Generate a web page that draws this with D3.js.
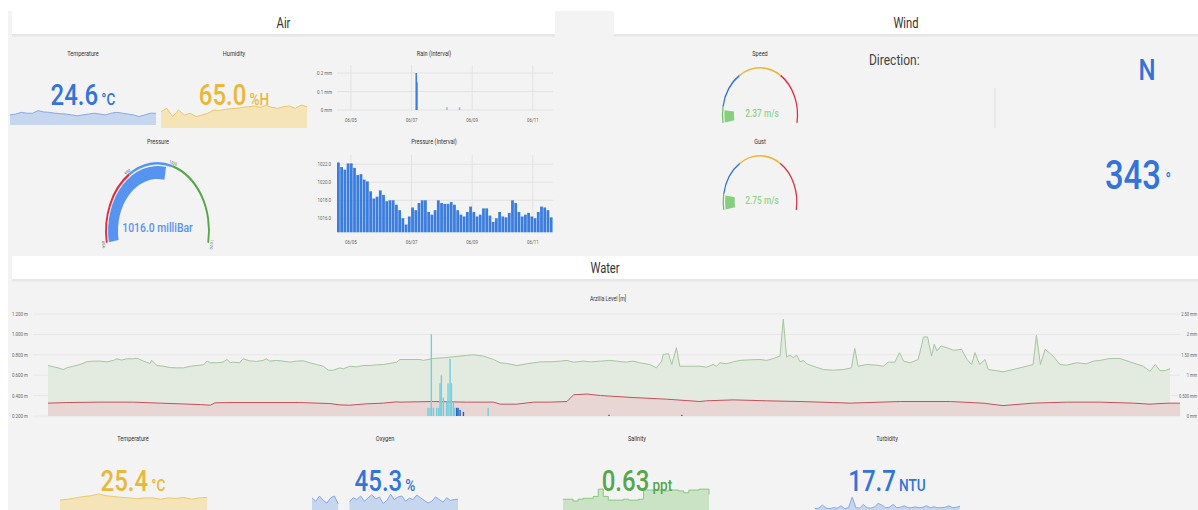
<!DOCTYPE html>
<html><head><meta charset="utf-8">
<script src="https://cdn.jsdelivr.net/npm/d3@7/dist/d3.min.js"></script>
<style>
html,body{margin:0;padding:0;background:#fff;overflow:hidden}
svg{display:block;font-family:Roboto,"Liberation Sans",sans-serif}
</style></head><body>
<svg id="chart" width="1198" height="510"></svg>
<script>
// ---------------- DATA ----------------
const airTempValue = 24.6;
const airTempSeries = [24.2,24.4,24.8,24.6,24.6,25.2,24.9,24.8,24.6,24.5,24.4,24.2,24.0,24.2,24.4,24.6,24.4,24.2,24.6,24.8,24.6,24.4,24.2,23.8,24.2,24.6,24.6];
const humidityValue = 65.0;
const humiditySeries = [60.5,63.5,56.0,62.0,57.5,59.0,56.0,57.5,59.0,62.0,61.4,62.6,63.2,63.5,64.4,65.0,65.6,64.4,66.2,64.4,63.5,65.0,65.6,63.5,66.5,65.0];

const chartTimeDomain = ["2019-06-04 13:00", "2019-06-11 16:00"];
const dayTicks = ["2019-06-05 00:00", "2019-06-07 00:00", "2019-06-09 00:00", "2019-06-11 00:00"];
const rainTimes = ["2019-06-07 03:45", "2019-06-07 04:15", "2019-06-08 04:00", "2019-06-08 14:00"];
const rainValues = [0.2, 0.15, 0.015, 0.015];
const rainTicks = [0, 0.1, 0.2];

const pressureSeries = [1022.2,1021.7,1021.4,1022.1,1022.1,1021.6,1020.8,1020.9,1020.3,1020.1,1019.0,1018.2,1018.4,1019.1,1018.6,1017.9,1018.0,1018.0,1017.5,1016.9,1016.0,1015.3,1016.2,1017.2,1016.9,1017.7,1018.0,1018.0,1016.7,1016.4,1016.9,1018.0,1017.7,1017.6,1017.6,1017.8,1017.5,1016.9,1016.4,1016.2,1016.7,1017.3,1016.7,1016.2,1016.4,1017.1,1017.1,1016.3,1015.6,1016.0,1016.7,1016.2,1016.1,1016.6,1018.0,1017.7,1016.7,1016.2,1016.4,1016.6,1016.2,1016.0,1016.7,1017.3,1017.2,1016.9,1016.1];
const pressureTicks = [1016, 1018, 1020, 1022];

const pressureValue = 1016.0;
const pressureStops = [950, 990, 1020, 1070];
const pressureColors = ["#e02f44", "#5794f2", "#56a64b"];

const windStops = [0, 3, 10, 20, 30];
const windColors = ["#73bf69", "#3274d9", "#eab839", "#e02f44"];
const speedValue = 2.37;
const gustValue = 2.75;
const directionLabel = "N";
const directionDegrees = 343;

const levelHours = [0,0.8,1.5,2.3,2.8,3.8,4.8,5.8,6.8,7.8,8.8,9.8,10.3,11.0,11.8,12.8,13.3,14.3,15.3,15.5,16.3,17.3,18.3,19.3,20.3,21.3,22.3,23.3,23.8,24.3,25.3,26.2,26.8,27.3,27.7,28.7,29.2,30.2,31.2,32.2,32.7,33.2,34.2,35.2,36.2,37.2,38.2,39.2,40.2,41.2,42.0,42.7,43.7,44.2,45.2,46.2,47.2,48.2,49.2,50.2,51.2,52.2,
52.7,54.2,55.7,56.2,57.7,59.2,60.7,62.7,63.7,65.2,66.7,67.7,68.7,70.2,71.7,72.7,73.7,75.2,76.7,77.7,78.7,80.2,81.2,82.7,84.1,85.1,86.6,87.6,88.6,90.1,91.1,91.9,92.1,92.9,93.4,94.1,94.6,96.1,97.6,98.6,99.6,100.1,100.6,101.6,102.6,103.6,105.1,106.6,107.6,108.6,109.6,110.1,110.6,111.1,111.6,112.1,
112.6,113.1,113.6,114.6,116.1,117.6,119.1,120.3,120.8,121.3,122.6,124.1,125.1,125.8,126.8,127.5,128.1,129.1,130.3,131.1,131.7,132.3,132.7,133.1,133.7,134.6,135.6,136.8,137.6,138.3,138.8,139.5,140.3,140.8,142.0,143.0,144.5,146.5,147.5,148.0,148.6,149.3,150.5,151.5,152.5,154.0,155.5,156.5,157.5,159.0,160.5,162.0,164.0,165.0,165.8,166.5,167.3,168.0];
const levelValues = [0.695,0.682,0.672,0.655,0.672,0.688,0.705,0.732,0.738,0.738,0.731,0.745,0.761,0.748,0.761,0.761,0.767,0.738,0.715,0.748,0.695,0.688,0.675,0.672,0.672,0.688,0.695,0.702,0.738,0.722,0.722,0.728,0.754,0.722,0.728,0.722,0.761,0.741,0.735,0.745,0.761,0.738,0.745,0.738,0.728,0.738,0.741,0.722,0.705,0.688,0.649,0.649,0.672,0.662,0.688,0.682,0.695,0.695,0.702,0.705,0.715,0.728,
0.754,0.754,0.754,0.745,0.764,0.771,0.781,0.794,0.801,0.787,0.754,0.722,0.715,0.695,0.712,0.722,0.731,0.731,0.738,0.745,0.728,0.738,0.731,0.738,0.745,0.738,0.728,0.738,0.722,0.705,0.672,0.738,0.804,0.811,0.705,0.870,0.688,0.688,0.688,0.678,0.705,0.688,0.722,0.712,0.731,0.745,0.751,0.754,0.745,0.764,0.787,1.150,0.777,0.797,0.771,0.797,
0.731,0.745,0.712,0.688,0.655,0.649,0.655,0.672,0.863,0.688,0.705,0.698,0.688,0.728,0.728,0.821,0.738,0.722,0.754,0.975,0.975,0.787,0.903,0.837,0.886,0.870,0.844,0.853,0.754,0.705,0.821,0.705,0.754,0.655,0.645,0.633,0.655,0.688,0.705,0.992,0.705,0.853,0.787,0.705,0.698,0.722,0.712,0.738,0.745,0.764,0.764,0.731,0.688,0.639,0.705,0.645,0.645,0.665];

const baseHours = [0,2.8,7.8,12.8,16.8,22.8,24.3,25.0,27.7,37.7,42.2,43.7,45.2,47.6,50.2,52.2,52.7,57.7,62.7,66.7,67.7,70.2,72.7,75.2,77.7,78.7,80.7,82.7,87.6,92.6,97.6,98.6,102.6,107.6,112.6,117.6,120.1,127.6,135.1,140.0,143.0,147.5,152.5,157.5,162.5,165.0,166.5,168.0,169.5];
const baseValues = [0.326,0.332,0.336,0.336,0.326,0.312,0.306,0.329,0.332,0.332,0.322,0.309,0.306,0.319,0.326,0.339,0.336,0.342,0.336,0.336,0.316,0.316,0.336,0.336,0.342,0.408,0.415,0.401,0.381,0.365,0.342,0.349,0.358,0.349,0.342,0.332,0.326,0.342,0.342,0.326,0.302,0.326,0.336,0.336,0.326,0.316,0.322,0.326,0.326];

const rainAHours = [56.9,57.2,57.4,57.7,58.2,58.5,58.7,58.9,59.2,59.7,59.9,60.2,60.4,60.7,60.9,65.9];
const rainAValues = [0.2,0.2,2.0,0.2,0.2,0.2,0.8,1.0,0.45,0.35,0.8,1.4,0.8,0.35,0.2,0.2];
const rainBHours = [61.2,61.4,61.7,62.2,84.0,94.9];
const rainBValues = [0.2,0.2,0.15,0.1,0.03,0.03];

const levelTicks = [0.2, 0.4, 0.6, 0.8, 1.0, 1.2];
const rainMmTicks = [0, 0.5, 1, 1.5, 2, 2.5];
const rainMmTickLabels = ["0 mm", "0.500 mm", "1 mm", "1.50 mm", "2 mm", "2.50 mm"];

const waterTempValue = 25.4;
const waterTempSeries = [25.16,25.25,25.4,25.55,25.64,25.85,25.64,25.55,25.46,25.4,25.31,25.4,25.4,25.25,25.4,25.34,25.46,25.25,25.4,25.46];
const oxygenValue = 45.3;
const oxygenSeries = [46.2,43.8,47.4,44.4,42.6,46.2,47.4,42.0,null,null,43.2,46.2,45.0,47.4,43.8,46.2,48.3,45.3,46.8,42.3,44.4,48.6,45.0,46.8,47.4,43.8,45.9,45.0,48.0,46.2,44.4,42.6,43.8,46.8,45.0,43.2,46.2,44.4,45.0,45.3];
const salinityValue = 0.63;
const salinitySeries = [0.53,0.53,0.51,0.53,0.54,0.54,0.56,0.64,0.56,0.52,0.52,0.52,0.53,0.52,0.52,0.53,0.63,0.63,0.63,0.63,0.62,0.63,0.63,0.62,0.60,0.63,0.63,0.64,0.64,0.58];
const turbidityValue = 17.7;
const turbiditySeries = [15,15.5,19,15.5,15,16,15.5,18.2,15,16,28.2,16,15.5,19.8,16,15.5,17,21,19,16,16.5,19.8,16,16.5,18.2,16,16,17,16,16.5,18.2,16,17,16,16,16.5,18.2,16,16.5,17.7];

// ---------------- DRAWING ----------------
const SX = 0.8;   // horizontal compression of the screenshot
const svg = d3.select("#chart");
const W = 1198, H = 510;
const parse = d3.timeParse("%Y-%m-%d %H:%M");

function txt(g, x, y, s, o = {}) {
  return g.append("text")
    .attr("transform", `translate(${x},${y}) scale(${SX},1)` + (o.rot ? ` rotate(${o.rot})` : ""))
    .attr("text-anchor", o.anchor || "middle")
    .attr("font-size", o.size || 7)
    .attr("font-weight", o.weight || 400)
    .attr("fill", o.color || "#333")
    .text(s);
}

svg.append("rect").attr("width", W).attr("height", H).attr("fill", "#fff");
svg.append("rect").attr("x", 8).attr("y", 11).attr("width", W - 8).attr("height", H - 11).attr("fill", "#f3f3f3");

function header(x0, x1, y0, label) {
  svg.append("rect").attr("x", x0).attr("y", y0).attr("width", x1 - x0).attr("height", 25).attr("fill", "#fff");
  svg.append("rect").attr("x", x0).attr("y", y0 + 23).attr("width", x1 - x0).attr("height", 2.5).attr("fill", "#e6e6e6");
  txt(svg, (x0 + x1) / 2, y0 + 17, label, { size: 14, color: "#333" });
}
header(12, 555, 11, "Air");
header(614, 1198, 11, "Wind");
header(12, 1198, 256, "Water");

// ---- single stat panels ----
function statPanel(o) {
  txt(svg, o.cx, o.titleY, o.title, { size: 7, color: "#333" });
  const x = d3.scaleLinear().domain([0, o.series.length - 1]).range(o.xr);
  const y = d3.scaleLinear().domain(o.domain).range(o.yr);
  const curve = o.curve || d3.curveLinear;
  const area = d3.area().defined(d => d != null).x((d, i) => x(i)).y0(o.yr[0]).y1(d => y(d)).curve(curve);
  const line = d3.line().defined(d => d != null).x((d, i) => x(i)).y(d => y(d)).curve(curve);
  svg.append("path").datum(o.series).attr("d", area).attr("fill", o.fill);
  svg.append("path").datum(o.series).attr("d", line).attr("fill", "none").attr("stroke", o.stroke).attr("stroke-width", 1);
  const t = svg.append("text").attr("transform", `translate(${o.cx},${o.valueY}) scale(${SX},1)`)
    .attr("text-anchor", "middle").attr("fill", o.color).attr("font-weight", 500);
  t.append("tspan").attr("font-size", 30).text(o.valueText);
  t.append("tspan").attr("font-size", 17).attr("dx", 4).text(o.unit);
}

statPanel({ cx: 83, titleY: 55.5, title: "Temperature", series: airTempSeries, xr: [10, 156], yr: [125, 109], domain: [21.8, 25.6],
  fill: "#c7d6ef", stroke: "#86a9e3", color: "#3274d9", valueY: 105, valueText: airTempValue.toFixed(1), unit: "°C" });
statPanel({ cx: 234, titleY: 55.5, title: "Humidity", series: humiditySeries, xr: [161, 307], yr: [128, 98], domain: [45.8, 72.8],
  fill: "#f4e4b8", stroke: "#e9c96e", color: "#eab839", valueY: 105, valueText: humidityValue.toFixed(1), unit: "%H" });

statPanel({ cx: 133, titleY: 440.5, title: "Temperature", series: waterTempSeries, xr: [60, 207], yr: [512, 490], domain: [23.8, 26.3],
  fill: "#f4e4b8", stroke: "#e9c96e", color: "#eab839", valueY: 491, valueText: waterTempValue.toFixed(1), unit: "°C" });
statPanel({ cx: 385, titleY: 440.5, title: "Oxygen", series: oxygenSeries, xr: [312, 458], yr: [512, 490], domain: [36.5, 51.5],
  fill: "#c7d6ef", stroke: "#86a9e3", color: "#3274d9", valueY: 491, valueText: oxygenValue.toFixed(1), unit: "%" });
statPanel({ cx: 637, titleY: 440.5, title: "Salinity", series: salinitySeries, xr: [563, 709], yr: [512, 485], domain: [0.39, 0.685],
  fill: "#c9e3c4", stroke: "#8cc784", color: "#56a64b", valueY: 491, valueText: salinityValue.toFixed(2), unit: "ppt", curve: d3.curveStepAfter });
statPanel({ cx: 887, titleY: 440.5, title: "Turbidity", series: turbiditySeries, xr: [815, 960], yr: [512, 490], domain: [11, 36.6],
  fill: "#c7d6ef", stroke: "#86a9e3", color: "#3274d9", valueY: 491, valueText: turbidityValue.toFixed(1), unit: "NTU" });

// ---- time charts (Rain / Pressure) ----
const tx = d3.scaleTime().domain(chartTimeDomain.map(parse)).range([337, 553]);
const fmtDay = d3.timeFormat("%m/%d");

function timeGrid(yTop, yBot, labelY) {
  dayTicks.map(parse).forEach(d => {
    svg.append("line").attr("x1", tx(d)).attr("x2", tx(d)).attr("y1", yTop).attr("y2", yBot).attr("stroke", "#e2e2e2").attr("stroke-width", 1);
    txt(svg, tx(d), labelY, fmtDay(d), { size: 5.5, color: "#666" });
  });
}

// Rain
txt(svg, 434, 55.5, "Rain (Interval)", { size: 7 });
const rainY = d3.scaleLinear().domain([0, 0.2]).range([110, 73]);
rainTicks.forEach(v => {
  svg.append("line").attr("x1", 337).attr("x2", 553).attr("y1", rainY(v)).attr("y2", rainY(v)).attr("stroke", "#e2e2e2");
  txt(svg, 332, rainY(v) + 2, v === 0 ? "0 mm" : d3.format(".1f")(v) + " mm", { size: 5.5, color: "#666", anchor: "end" });
});
timeGrid(65, 110, 122);
svg.append("g").selectAll("rect").data(rainValues).join("rect")
  .attr("x", (d, i) => tx(parse(rainTimes[i])) - 0.8).attr("width", 1.6)
  .attr("y", d => rainY(d)).attr("height", d => rainY(0) - rainY(d))
  .attr("fill", (d, i) => d > 0.05 ? "#3d7de0" : "#9dbbe8");

// Pressure
txt(svg, 434, 143.5, "Pressure (Interval)", { size: 7 });
const presY = d3.scaleLinear().domain([1014.44, 1023]).range([232.3, 155.3]);
pressureTicks.forEach(v => {
  svg.append("line").attr("x1", 337).attr("x2", 553).attr("y1", presY(v)).attr("y2", presY(v)).attr("stroke", "#e2e2e2");
  txt(svg, 331, presY(v) + 2, d3.format(".1f")(v), { size: 5.5, color: "#666", anchor: "end" });
});
timeGrid(155, 232, 244);
const [pt0, pt1] = chartTimeDomain.map(parse);
const pStep = (pt1 - pt0) / pressureSeries.length;
svg.append("g").selectAll("rect").data(pressureSeries).join("rect")
  .attr("x", (d, i) => tx(new Date(+pt0 + i * pStep)))
  .attr("width", (d, i) => tx(new Date(+pt0 + (i + 1) * pStep)) - tx(new Date(+pt0 + i * pStep)) - 0.45)
  .attr("y", d => presY(d)).attr("height", d => presY.range()[0] - presY(d))
  .attr("fill", "#3b7ddd");

// ---- gauges ----
function gauge(o) {
  const sx = o.sx || SX;
  const A = d3.scaleLinear().domain([o.stops[0], o.stops[o.stops.length - 1]]).range([-100 * Math.PI / 180, 100 * Math.PI / 180]);
  const g = svg.append("g").attr("transform", `translate(${o.cx},${o.cy}) scale(${sx},1)`);
  const arc = d3.arc();
  for (let i = 0; i < o.stops.length - 1; i++) {
    g.append("path").attr("d", arc({ innerRadius: o.r - o.ring, outerRadius: o.r, startAngle: A(o.stops[i]), endAngle: A(o.stops[i + 1]) }))
      .attr("fill", o.colors[i]);
  }
  g.append("path").attr("d", arc({ innerRadius: o.r - o.ring - o.gap - o.band, outerRadius: o.r - o.ring - o.gap,
      startAngle: A(o.stops[0]), endAngle: A(o.value) }))
    .attr("fill", o.bandColor);
  if (o.labels) {
    o.stops.forEach(v => {
      const a = A(v), rr = o.r + 1.5;
      txt(svg, o.cx + sx * rr * Math.sin(a), o.cy - rr * Math.cos(a) + 1, String(v), { size: 4.5, color: "#666", rot: a * 180 / Math.PI });
    });
  }
  txt(svg, o.tx, o.ty, o.text, { size: o.tsize, color: o.tcolor, weight: 500 });
}

txt(svg, 158, 143.5, "Pressure", { size: 7 });
gauge({ cx: 157.5, cy: 231, r: 69, sx: 0.76, ring: 2.5, gap: 1.5, band: 13, stops: pressureStops, colors: pressureColors,
  value: pressureValue, bandColor: "#5794f2", labels: true,
  text: pressureValue.toFixed(1) + " milliBar", tx: 157.5, ty: 232, tsize: 13, tcolor: "#5794f2" });

txt(svg, 760, 55.5, "Speed", { size: 7 });
gauge({ cx: 760, cy: 114.7, r: 47.7, ring: 1.6, gap: 1.5, band: 12, stops: windStops, colors: windColors,
  value: speedValue, bandColor: "#86cf7f",
  text: speedValue.toFixed(2) + " m/s", tx: 762, ty: 117, tsize: 10.5, tcolor: "#8fd48a" });

txt(svg, 760, 143.5, "Gust", { size: 7 });
gauge({ cx: 760, cy: 201.8, r: 46.8, ring: 1.6, gap: 1.5, band: 12, stops: windStops, colors: windColors,
  value: gustValue, bandColor: "#86cf7f",
  text: gustValue.toFixed(2) + " m/s", tx: 762, ty: 203.5, tsize: 10.5, tcolor: "#8fd48a" });

// ---- direction ----
txt(svg, 869, 65, "Direction:", { size: 15, color: "#444", anchor: "start" });
txt(svg, 1147, 80, directionLabel, { size: 30, color: "#3274d9", weight: 500 });
svg.append("line").attr("x1", 995).attr("x2", 995).attr("y1", 88).attr("y2", 128).attr("stroke", "#dcdcdc");
{
  const t = svg.append("text").attr("transform", `translate(1138,189) scale(${SX},1)`).attr("text-anchor", "middle")
    .attr("fill", "#3274d9").attr("font-weight", 500);
  t.append("tspan").attr("font-size", 41).text(String(directionDegrees));
  t.append("tspan").attr("font-size", 18).attr("dx", 6).attr("dy", -3).text("°");
}

// ---- water level chart ----
txt(svg, 608, 300.5, "Arzilla Level [m]", { size: 6.5 });
const hx = d3.scaleLinear().domain([0, 168]).range([48, 1170]);
const ly = d3.scaleLinear().domain([0.2, 1.2]).range([416, 314]);
const ry = d3.scaleLinear().domain([0, 2.5]).range([416, 314]);

levelTicks.forEach(v => {
  svg.append("line").attr("x1", 33).attr("x2", 1180).attr("y1", ly(v)).attr("y2", ly(v)).attr("stroke", "#e6e6e6");
  txt(svg, 12, ly(v) + 2, d3.format(".3f")(v) + " m", { size: 5.5, color: "#666", anchor: "start" });
});
rainMmTicks.forEach((v, i) => txt(svg, 1197, ry(v) + 2, rainMmTickLabels[i], { size: 5, color: "#666", anchor: "end" }));

const levelPts = levelHours.map((h, i) => [h, levelValues[i]]);
const basePts = baseHours.map((h, i) => [h, baseValues[i]]);
const areaL = d3.area().x(d => hx(d[0])).y0(ly(0.2)).y1(d => ly(d[1]));
const lineL = d3.line().x(d => hx(d[0])).y(d => ly(d[1]));
svg.append("path").datum(levelPts).attr("d", areaL).attr("fill", "#e3eadf");
svg.append("path").datum(levelPts).attr("d", lineL).attr("fill", "none").attr("stroke", "#a6c69e").attr("stroke-width", 1);
svg.append("path").datum(basePts).attr("d", areaL).attr("fill", "#e8d6d5");
svg.append("path").datum(basePts).attr("d", lineL).attr("fill", "none").attr("stroke", "#c4505b").attr("stroke-width", 1);

svg.append("g").selectAll("rect").data(rainAValues).join("rect")
  .attr("x", (d, i) => hx(rainAHours[i]) - 0.7).attr("width", 1.4)
  .attr("y", d => ry(d)).attr("height", d => ry(0) - ry(d)).attr("fill", "#6ed0e0");
svg.append("g").selectAll("rect").data(rainBValues).join("rect")
  .attr("x", (d, i) => hx(rainBHours[i]) - 0.7).attr("width", 1.4)
  .attr("y", d => ry(d)).attr("height", d => ry(0) - ry(d)).attr("fill", "#1f60c4");
</script></body></html>
